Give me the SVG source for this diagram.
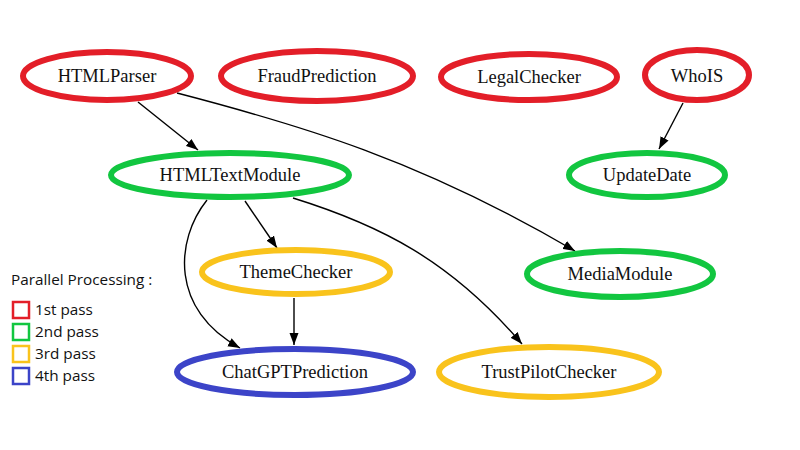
<svg xmlns="http://www.w3.org/2000/svg" width="800" height="450" viewBox="0 0 800 450">
<style>
.n ellipse{fill:#fff;stroke-width:6}
.r ellipse{stroke:#e31e28}
.g ellipse{stroke:#12c640}
.y ellipse{stroke:#f9c31c}
.b ellipse{stroke:#3c44c8}
.n text{font-family:"Liberation Serif","Times New Roman",serif;font-size:18.5px;fill:#111;text-anchor:middle}
.e path{fill:none;stroke:#000;stroke-width:1.4}
.lg text{font-family:"Open Sans","Noto Sans",sans-serif;font-size:15.3px;fill:#111}
.lg rect{fill:none;stroke-width:2.5}
</style>
<defs>
<marker id="a" viewBox="0 0 12 10" refX="12" refY="5" markerWidth="12" markerHeight="10" markerUnits="userSpaceOnUse" orient="auto">
<path d="M0,0.5 L12,5 L0,9.5 Z" fill="#000"/>
</marker>
</defs>
<rect width="800" height="450" fill="#fff"/>
<g class="e">
<path d="M138,102 L198,150" marker-end="url(#a)"/>
<path d="M177,93 C300,125 420,160 575,251" marker-end="url(#a)"/>
<path d="M683,103 L659,149" marker-end="url(#a)"/>
<path d="M245,201 L277,248" marker-end="url(#a)"/>
<path d="M207,200 C175,240 170,310 240,348" marker-end="url(#a)"/>
<path d="M294,298 L294,345" marker-end="url(#a)"/>
<path d="M293,198 C380,225 450,260 522,344" marker-end="url(#a)"/>
</g>
<g id="HTMLParser" class="n r"><ellipse cx="107" cy="76" rx="84" ry="24"/><text x="107" y="82">HTMLParser</text></g>
<g id="FraudPrediction" class="n r"><ellipse cx="317" cy="76" rx="96" ry="25"/><text x="317" y="82">FraudPrediction</text></g>
<g id="LegalChecker" class="n r"><ellipse cx="529" cy="77" rx="88" ry="23"/><text x="529" y="83">LegalChecker</text></g>
<g id="WhoIS" class="n r"><ellipse cx="697" cy="75" rx="52" ry="25"/><text x="697" y="82">WhoIS</text></g>
<g id="HTMLTextModule" class="n g"><ellipse cx="230" cy="175" rx="119" ry="22"/><text x="230" y="181">HTMLTextModule</text></g>
<g id="UpdateDate" class="n g"><ellipse cx="647" cy="175" rx="78" ry="22"/><text x="647" y="181">UpdateDate</text></g>
<g id="ThemeChecker" class="n y"><ellipse cx="296" cy="272" rx="94" ry="22"/><text x="296" y="278">ThemeChecker</text></g>
<g id="MediaModule" class="n g"><ellipse cx="620" cy="274" rx="93" ry="23"/><text x="620" y="280">MediaModule</text></g>
<g id="ChatGPTPrediction" class="n b"><ellipse cx="295" cy="372" rx="118" ry="23"/><text x="295" y="378">ChatGPTPrediction</text></g>
<g id="TrustPilotChecker" class="n y"><ellipse cx="549" cy="372" rx="110" ry="25"/><text x="549" y="378">TrustPilotChecker</text></g>
<g id="legend" class="lg">
<text x="11" y="285">Parallel Processing :</text>
<rect x="13" y="302" width="16" height="16" stroke="#e31e28"/><text x="35" y="315">1st pass</text>
<rect x="13" y="324" width="16" height="16" stroke="#12c640"/><text x="35" y="337">2nd pass</text>
<rect x="13" y="346" width="16" height="16" stroke="#f9c31c"/><text x="35" y="359">3rd pass</text>
<rect x="13" y="368" width="16" height="16" stroke="#3c44c8"/><text x="35" y="381">4th pass</text>
</g>
</svg>
